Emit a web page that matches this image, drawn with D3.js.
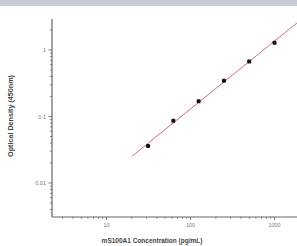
<!DOCTYPE html>
<html><head><meta charset="utf-8">
<script src="https://cdn.jsdelivr.net/npm/d3@7"></script>
<style>body{margin:0;background:#fff}svg{display:block}</style>
</head><body>
<script>
const concentrations = [31.25, 62.5, 125, 250, 500, 1000];
const odValues = [0.036, 0.086, 0.17, 0.345, 0.67, 1.29];
const xTickValues = [10, 100, 1000];
const xTickLabels = ["10", "100", "1000"];
const yTickValues = [0.01, 0.1, 1];
const yTickLabels = ["0.01", "0.1", "1"];
const fitRange = [20, 3000];

const W = 297, H = 246;
const svg = d3.select("body").append("svg").attr("width", W).attr("height", H);
svg.append("rect").attr("x",0).attr("y",0).attr("width",W).attr("height",6).attr("fill","#c6ccda");

const x = d3.scaleLog().domain([10, 1000]).range([106.5, 274.5]);
const y = d3.scaleLog().domain([0.01, 1]).range([183, 50]);
const xMin = x.invert(52), xMax = x.invert(310);
const yMin = y.invert(217), yMax = y.invert(19);

const axisColor = "#666";
svg.append("line").attr("x1",52).attr("x2",W).attr("y1",217).attr("y2",217).attr("stroke",axisColor).attr("stroke-width",1.2);
svg.append("line").attr("x1",52).attr("x2",52).attr("y1",19).attr("y2",217).attr("stroke",axisColor).attr("stroke-width",1.2);

const xMinor = [];
for (let d = 1; d <= 1000; d *= 10) for (let k = 1; k < 10; k++) { const v = d*k; if (v > xMin && v < xMax) xMinor.push(v); }
svg.selectAll(".xt").data(xMinor).enter().append("line")
  .attr("x1", d => x(d)).attr("x2", d => x(d)).attr("y1", 217)
  .attr("y2", d => xTickValues.includes(d) ? 220 : 218.8)
  .attr("stroke", axisColor).attr("stroke-width", 0.8);
svg.selectAll(".xl").data(xTickValues).enter().append("text")
  .attr("x", d => x(d)).attr("y", 227).attr("text-anchor","middle")
  .attr("font-family","Liberation Sans, Arial, sans-serif").attr("font-size",5.5).attr("fill","#777")
  .text((d,i) => xTickLabels[i]);

const yMinor = [];
for (let d = 0.001; d <= 1; d *= 10) for (let k = 1; k < 10; k++) { const v = d*k; if (v > yMin && v < yMax) yMinor.push(v); }
svg.selectAll(".yt").data(yMinor).enter().append("line")
  .attr("y1", d => y(d)).attr("y2", d => y(d)).attr("x1", 52)
  .attr("x2", d => yTickValues.some(t => Math.abs(t-d)/t < 1e-6) ? 48.5 : 50)
  .attr("stroke", axisColor).attr("stroke-width", 0.8);
svg.selectAll(".yl").data(yTickValues).enter().append("text")
  .attr("x", 46).attr("y", d => y(d) + 2).attr("text-anchor","end")
  .attr("font-family","Liberation Sans, Arial, sans-serif").attr("font-size",5.5).attr("fill","#777")
  .text((d,i) => yTickLabels[i]);

const lx = concentrations.map(Math.log10), ly = odValues.map(Math.log10);
const mx = d3.mean(lx), my = d3.mean(ly);
const slope = d3.sum(lx.map((v,i)=>(v-mx)*(ly[i]-my))) / d3.sum(lx.map(v=>(v-mx)**2));
const icpt = my - slope*mx;
const fitY = c => Math.pow(10, icpt + slope*Math.log10(c));
svg.append("line")
  .attr("x1", x(fitRange[0])).attr("y1", y(fitY(fitRange[0])))
  .attr("x2", x(fitRange[1])).attr("y2", y(fitY(fitRange[1])))
  .attr("stroke","#cf6f74").attr("stroke-width",1);

svg.selectAll(".pt").data(concentrations).enter().append("rect")
  .attr("x", d => x(d) - 2).attr("y", (d,i) => y(odValues[i]) - 2)
  .attr("width", 4).attr("height", 4).attr("rx", 1.2).attr("fill", "#111");

svg.append("text").attr("x", 152).attr("y", 243).attr("text-anchor","middle")
  .attr("font-family","Liberation Sans, Arial, sans-serif").attr("font-weight","bold").attr("font-size",6.5).attr("fill","#444")
  .text("mS100A1 Concentration (pg/mL)");
svg.append("text").attr("transform","translate(13,116) rotate(-90)").attr("text-anchor","middle")
  .attr("font-family","Liberation Sans, Arial, sans-serif").attr("font-weight","bold").attr("font-size",7.2).attr("fill","#444")
  .text("Optical Density (450nm)");
</script>
</body></html>
